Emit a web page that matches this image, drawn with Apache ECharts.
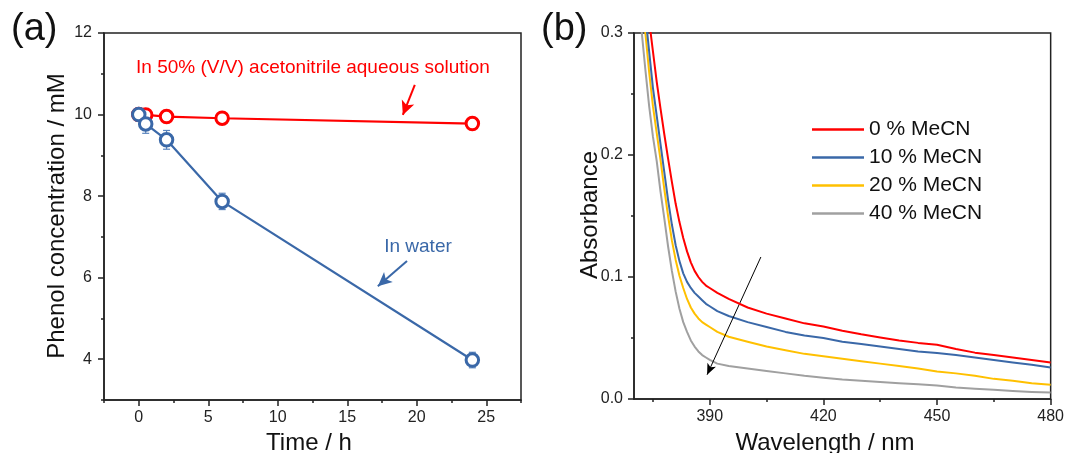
<!DOCTYPE html>
<html>
<head>
<meta charset="utf-8">
<script src="https://cdn.jsdelivr.net/npm/echarts@6/dist/echarts.min.js"></script>
<style>
  html, body { margin: 0; padding: 0; background: #fff; }
  #chart { width: 1067px; height: 453px; }
</style>
</head>
<body>
<div id="chart"></div>
<script>
// ---- (a) phenol concentration vs. time ----
const timeH = [0, 0.5, 2, 6, 24];
const waterConc = [10.0, 9.77, 9.38, 7.87, 3.98];
const waterErr = [0, 0.23, 0.23, 0.2, 0.19];
const mecnConc = [10.0, 9.99, 9.95, 9.91, 9.78];
const timeMajor = [0, 5, 10, 15, 20, 25];
const timeMinor = [-2.5, 2.5, 7.5, 12.5, 17.5, 22.5, 27.5];
const concMajor = [4, 6, 8, 10, 12];
const concMinor = [3, 5, 7, 9, 11];
// annotation arrows, in data units [time, conc]
const mecnArrow = [[19.86, 10.73], [19.0, 9.99]];
const waterArrow = [[19.3, 6.41], [17.2, 5.79]];

// ---- (b) UV-vis absorbance spectra ----
const wavelength = [371, 372, 373, 374, 375, 376, 377, 378, 379, 380, 381, 382, 383, 384, 385, 386, 387, 388, 389, 390, 392, 395,
  400, 405, 410, 415, 420, 425, 430, 435, 440, 445, 450, 455, 460, 465, 470, 475, 480];
const abs0 = [0.40, 0.37, 0.34, 0.31, 0.285, 0.26, 0.238, 0.217, 0.197, 0.178, 0.16, 0.145, 0.132, 0.121, 0.112, 0.105, 0.100, 0.096, 0.093, 0.091, 0.087, 0.082,
  0.075, 0.070, 0.066, 0.062, 0.0595, 0.056, 0.053, 0.0505, 0.048, 0.046, 0.0445, 0.041, 0.038, 0.036, 0.034, 0.032, 0.030];
const abs10 = [0.385, 0.35, 0.315, 0.285, 0.255, 0.232, 0.209, 0.186, 0.163, 0.143, 0.126, 0.113, 0.103, 0.096, 0.091, 0.087, 0.084, 0.081, 0.078, 0.076, 0.072, 0.068,
  0.063, 0.059, 0.055, 0.052, 0.050, 0.047, 0.045, 0.043, 0.041, 0.039, 0.0377, 0.036, 0.034, 0.032, 0.030, 0.028, 0.0259];
const abs20 = [0.36, 0.33, 0.30, 0.268, 0.24, 0.218, 0.196, 0.172, 0.15, 0.13, 0.114, 0.101, 0.091, 0.082, 0.075, 0.070, 0.066, 0.063, 0.061, 0.059, 0.055, 0.051,
  0.047, 0.043, 0.040, 0.037, 0.035, 0.033, 0.031, 0.029, 0.027, 0.025, 0.0226, 0.021, 0.019, 0.0165, 0.015, 0.013, 0.0117];
const abs40 = [0.34, 0.302, 0.27, 0.24, 0.215, 0.195, 0.17, 0.148, 0.125, 0.105, 0.088, 0.074, 0.063, 0.055, 0.048, 0.043, 0.039, 0.036, 0.034, 0.032, 0.029, 0.027,
  0.025, 0.023, 0.021, 0.019, 0.0175, 0.016, 0.015, 0.014, 0.013, 0.012, 0.011, 0.0095, 0.0085, 0.0075, 0.0065, 0.0058, 0.0054];
const spectraNames = ['0 % MeCN', '10 % MeCN', '20 % MeCN', '40 % MeCN'];
const spectraValues = [abs0, abs10, abs20, abs40];
const spectraColors = ['#ff0000', '#3a68a8', '#ffc000', '#a0a0a0'];
const wlMajor = [390, 420, 450, 480];
const wlMinor = [375, 405, 435, 465];
const absMajor = [0, 0.1, 0.2, 0.3];
const absMinor = [0.05, 0.15, 0.25];
const trendArrow = [[403.5, 0.1164], [389.3, 0.0199]];

const FONT = '"Liberation Sans", Arial, sans-serif';
const RED = '#ff0000';
const BLUE = '#3a68a8';
const INK = '#222';
const TICK_FONT = 16;

const pair = (xs, ys) => xs.map((x, i) => [x, ys[i]]);

function majorAxis(extra) {
  return Object.assign({
    type: 'value',
    axisLine: { show: true, onZero: false, lineStyle: { color: INK, width: 1.5 } },
    axisTick: { show: true, inside: false, length: 6, lineStyle: { color: INK, width: 1.5 } },
    axisLabel: { color: INK, fontSize: TICK_FONT, fontFamily: FONT },
    splitLine: { show: false }
  }, extra);
}
function minorAxis(extra) {
  return Object.assign({
    type: 'value',
    axisLine: { show: false, onZero: false },
    axisTick: { show: true, inside: false, length: 3, lineStyle: { color: INK, width: 1.5 } },
    axisLabel: { show: false },
    splitLine: { show: false }
  }, extra);
}

const chart = echarts.init(document.getElementById('chart'), null, { renderer: 'canvas' });

const option = {
  animation: false,
  backgroundColor: '#fff',
  grid: [
    { left: 104, top: 33, width: 417, height: 367, show: true, borderColor: INK, borderWidth: 1.5, backgroundColor: 'transparent' },
    { left: 634, top: 33, width: 418, height: 366, show: true, borderColor: INK, borderWidth: 1.5, backgroundColor: 'transparent' }
  ],
  xAxis: [
    majorAxis({ gridIndex: 0, position: 'bottom', min: -2.5, max: 27.5,
      axisTick: { show: true, length: 6, customValues: timeMajor, lineStyle: { color: INK, width: 1.5 } },
      axisLabel: { color: INK, fontSize: TICK_FONT, fontFamily: FONT, margin: 10, customValues: timeMajor } }),
    minorAxis({ gridIndex: 0, position: 'bottom', min: -2.5, max: 27.5,
      axisTick: { show: true, length: 3, customValues: timeMinor, lineStyle: { color: INK, width: 1.5 } } }),
    majorAxis({ gridIndex: 1, position: 'bottom', min: 370, max: 480,
      axisTick: { show: true, length: 6, customValues: wlMajor, lineStyle: { color: INK, width: 1.5 } },
      axisLabel: { color: INK, fontSize: TICK_FONT, fontFamily: FONT, margin: 10, customValues: wlMajor } }),
    minorAxis({ gridIndex: 1, position: 'bottom', min: 370, max: 480,
      axisTick: { show: true, length: 3, customValues: wlMinor, lineStyle: { color: INK, width: 1.5 } } })
  ],
  yAxis: [
    majorAxis({ gridIndex: 0, position: 'left', min: 3, max: 12,
      axisTick: { show: true, length: 6, customValues: concMajor, lineStyle: { color: INK, width: 1.5 } },
      axisLabel: { color: INK, fontSize: TICK_FONT, fontFamily: FONT, margin: 12, customValues: concMajor } }),
    minorAxis({ gridIndex: 0, position: 'left', min: 3, max: 12,
      axisTick: { show: true, length: 3, customValues: concMinor, lineStyle: { color: INK, width: 1.5 } } }),
    majorAxis({ gridIndex: 1, position: 'left', min: 0, max: 0.3,
      axisTick: { show: true, length: 6, customValues: absMajor, lineStyle: { color: INK, width: 1.5 } },
      axisLabel: { color: INK, fontSize: TICK_FONT, fontFamily: FONT, margin: 11, customValues: absMajor,
        formatter: v => v.toFixed(1) } }),
    minorAxis({ gridIndex: 1, position: 'left', min: 0, max: 0.3,
      axisTick: { show: true, length: 3, customValues: absMinor, lineStyle: { color: INK, width: 1.5 } } })
  ],
  legend: {
    data: spectraNames,
    orient: 'vertical',
    left: 807,
    top: 114,
    icon: 'rect',
    itemWidth: 52,
    itemHeight: 2.5,
    itemGap: 7,
    textStyle: { color: '#111', fontSize: 21, fontFamily: FONT, lineHeight: 21 }
  },
  series: [
    // error bars for the aqueous run
    {
      type: 'custom',
      xAxisIndex: 0, yAxisIndex: 0,
      z: 1,
      data: timeH.map((t, i) => [t, waterConc[i], waterErr[i]]),
      renderItem(params, api) {
        const x = api.value(0), y = api.value(1), e = api.value(2);
        if (!e) return null;
        const top = api.coord([x, y + e]);
        const bot = api.coord([x, y - e]);
        const cap = 3.5;
        const st = { stroke: '#5a84bd', lineWidth: 1.2 };
        return {
          type: 'group',
          children: [
            { type: 'line', shape: { x1: top[0], y1: top[1], x2: bot[0], y2: bot[1] }, style: st },
            { type: 'line', shape: { x1: top[0] - cap, y1: top[1], x2: top[0] + cap, y2: top[1] }, style: st },
            { type: 'line', shape: { x1: bot[0] - cap, y1: bot[1], x2: bot[0] + cap, y2: bot[1] }, style: st }
          ]
        };
      }
    },
    {
      name: 'In 50% (V/V) acetonitrile aqueous solution',
      type: 'line',
      xAxisIndex: 0, yAxisIndex: 0,
      z: 2,
      data: pair(timeH, mecnConc),
      symbol: 'circle', symbolSize: 12.5, showAllSymbol: true,
      lineStyle: { color: RED, width: 2.2 },
      itemStyle: { color: '#fff', borderColor: RED, borderWidth: 3 },
      markLine: {
        silent: true, symbol: ['none', 'arrow'], symbolSize: [10, 14],
        lineStyle: { color: RED, width: 2, type: 'solid' },
        label: { show: false },
        data: [[{ coord: mecnArrow[0] }, { coord: mecnArrow[1] }]]
      }
    },
    {
      name: 'In water',
      type: 'line',
      xAxisIndex: 0, yAxisIndex: 0,
      z: 3,
      data: pair(timeH, waterConc),
      symbol: 'circle', symbolSize: 12.5, showAllSymbol: true,
      lineStyle: { color: BLUE, width: 2.2 },
      itemStyle: { color: '#fff', borderColor: BLUE, borderWidth: 3 },
      markLine: {
        silent: true, symbol: ['none', 'arrow'], symbolSize: [10, 14],
        lineStyle: { color: BLUE, width: 2, type: 'solid' },
        label: { show: false },
        data: [[{ coord: waterArrow[0] }, { coord: waterArrow[1] }]]
      }
    }
  ].concat(spectraNames.map((name, k) => ({
    name,
    type: 'line',
    xAxisIndex: 2, yAxisIndex: 2,
    data: pair(wavelength, spectraValues[k]),
    symbol: 'none',
    clip: true,
    z: 2 + (3 - k),
    lineStyle: { color: spectraColors[k], width: 2, join: 'round' },
    itemStyle: { color: spectraColors[k] },
    markLine: k === 0 ? {
      silent: true, symbol: ['none', 'arrow'], symbolSize: [7, 11],
      lineStyle: { color: '#000', width: 1, type: 'solid' },
      label: { show: false },
      data: [[{ coord: trendArrow[0] }, { coord: trendArrow[1] }]]
    } : undefined
  }))),
  graphic: [
    { type: 'text', left: 11, top: 11, style: { text: '(a)', fontSize: 38, fontFamily: FONT, fill: '#111' } },
    { type: 'text', left: 541, top: 11, style: { text: '(b)', fontSize: 38, fontFamily: FONT, fill: '#111' } },
    { type: 'text', x: 57, y: 216, rotation: Math.PI / 2,
      style: { text: 'Phenol concentration / mM', fontSize: 24, fontFamily: FONT, fill: '#111', align: 'center', verticalAlign: 'middle' } },
    { type: 'text', x: 309, y: 443,
      style: { text: 'Time / h', fontSize: 24, fontFamily: FONT, fill: '#111', align: 'center', verticalAlign: 'middle' } },
    { type: 'text', x: 590, y: 215, rotation: Math.PI / 2,
      style: { text: 'Absorbance', fontSize: 24, fontFamily: FONT, fill: '#111', align: 'center', verticalAlign: 'middle' } },
    { type: 'text', x: 825, y: 443,
      style: { text: 'Wavelength / nm', fontSize: 24, fontFamily: FONT, fill: '#111', align: 'center', verticalAlign: 'middle' } },
    { type: 'text', x: 313, y: 68,
      style: { text: 'In 50% (V/V) acetonitrile aqueous solution', fontSize: 19, fontFamily: FONT, fill: RED, align: 'center', verticalAlign: 'middle' } },
    { type: 'text', x: 418, y: 247,
      style: { text: 'In water', fontSize: 19, fontFamily: FONT, fill: BLUE, align: 'center', verticalAlign: 'middle' } }
  ]
};

chart.setOption(option);
</script>
</body>
</html>
